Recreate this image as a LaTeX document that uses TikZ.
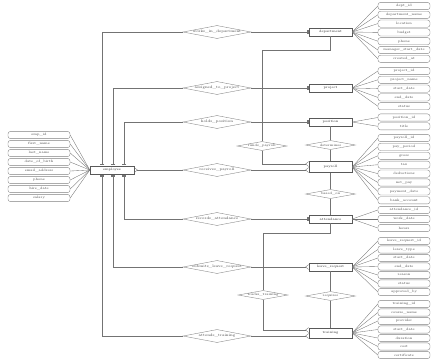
\documentclass[tikz,border=0pt]{standalone}
\usetikzlibrary{shapes.geometric,arrows.meta}
\begin{document}
\begin{tikzpicture}[x=1pt,y=-1pt,
  every node/.style={font=\fontsize{3.3}{3.6}\selectfont, text=black!75, inner sep=0.5pt},
  conn/.style={draw=black!55, line width=0.35pt},
  attr/.style={draw=black!50, line width=0.35pt, rounded corners=2.5pt, minimum height=7.2pt, fill=white},
  lattr/.style={attr, minimum width=62pt},
  rattr/.style={attr, minimum width=52pt},
  ent/.style={draw=black!65, line width=0.4pt, fill=white, minimum width=43pt, minimum height=8pt, font=\fontsize{3.3}{3.6}\selectfont, text=black!85},
  bigrel/.style={diamond, aspect=5.2, draw=black!50, line width=0.35pt, fill=white, minimum width=68pt, minimum height=13pt, inner sep=0pt, font=\fontsize{3.6}{4}\selectfont},
  smallrel/.style={diamond, aspect=5.5, draw=black!50, line width=0.35pt, fill=white, minimum width=50pt, minimum height=9pt, inner sep=0pt},
  oneend/.style={-{Bar[width=4pt,sep=1.2pt]Bar[width=4pt]}},
  manyend/.style={-{Straight Barb[reversed,length=3pt,width=5pt]}},
  onestart/.style={{Bar[width=4pt,sep=1.2pt]Bar[width=4pt]}-}
]
\useasboundingbox (0,0) rectangle (438,360);

% hidden helper coordinates
\coordinate (v1) at (102,0);
\coordinate (v2) at (113,0);
\coordinate (v3) at (124,0);
\coordinate (k1) at (262,50);
\coordinate (k2) at (0,164);
\coordinate (k3) at (263,233);
\coordinate (k4) at (0,330);

% relationships (left column)
\node[bigrel] (R1) at (217,32) {works\_in\_department};
\node[bigrel] (R2) at (217,88) {assigned\_to\_project};
\node[bigrel] (R3) at (217,122) {holds\_position};
\node[bigrel] (R4) at (217,170) {receives\_payroll};
\node[bigrel] (R5) at (217,219) {records\_attendance};
\node[bigrel] (R6) at (217,267) {submits\_leave\_request};
\node[bigrel] (R7) at (217,336) {attends\_training};

% relationships (right)
\node[smallrel] (RA) at (262,146) {funds\_payroll};
\node[smallrel] (RB) at (330.5,145) {determines};
\node[smallrel] (RC) at (330.5,194) {based\_on};
\node[smallrel] (RD) at (263,295) {tracks\_training};
\node[smallrel] (RE) at (330.5,296) {requires};

% main entity
\node[ent, minimum width=44pt, minimum height=8pt] (main) at (112,170) {employee};

% right entities
\node[ent] (E1) at (330.5,32) {department};
\node[ent] (E2) at (330.5,88) {project};
\node[ent] (E3) at (330.5,122) {position};
\node[ent, minimum height=11pt] (E4) at (330.5,167) {payroll};
\node[ent] (E5) at (330.5,219) {attendance};
\node[ent] (E6) at (330.5,267) {leave\_request};
\node[ent, minimum height=10pt] (E7) at (330.5,333) {training};

% left attributes
\foreach \t [count=\i] in {emp\_id, first\_name, last\_name, date\_of\_birth, email\_address, phone, hire\_date, salary}{
  \node[lattr] (la\i) at (39,{135+9*(\i-1)}) {\t};
  \draw[conn] (la\i.east) -- (main.west);
}

% right attributes
\foreach \t [count=\i] in {dept\_id, department\_name, location, budget, phone, manager\_start\_date, created\_at}{
  \node[rattr] (ea\i) at (404,{6+8.8*(\i-1)}) {\t};
  \draw[conn] (ea\i.west) -- (E1.east);
}
\foreach \t [count=\i] in {project\_id, project\_name, start\_date, end\_date, status}{
  \node[rattr] (eb\i) at (404,{71+8.8*(\i-1)}) {\t};
  \draw[conn] (eb\i.west) -- (E2.east);
}
\foreach \t [count=\i] in {position\_id, title}{
  \node[rattr] (ec\i) at (404,{117.5+8.8*(\i-1)}) {\t};
  \draw[conn] (ec\i.west) -- (E3.east);
}
\foreach \t [count=\i] in {payroll\_id, pay\_period, gross, tax, deductions, net\_pay, payment\_date, bank\_account}{
  \node[rattr] (ed\i) at (404,{138+8.9*(\i-1)}) {\t};
  \draw[conn] (ed\i.west) -- (E4.east);
}
\foreach \t [count=\i] in {attendance\_id, work\_date, hours}{
  \node[rattr] (ee\i) at (404,{210+9*(\i-1)}) {\t};
  \draw[conn] (ee\i.west) -- (E5.east);
}
\foreach \t [count=\i] in {leave\_request\_id, leave\_type, start\_date, end\_date, reason, status, approved\_by}{
  \node[rattr] (ef\i) at (404,{241+8.5*(\i-1)}) {\t};
  \draw[conn] (ef\i.west) -- (E6.east);
}
\foreach \t [count=\i] in {training\_id, course\_name, provider, start\_date, duration, cost, certificate}{
  \node[rattr] (eg\i) at (404,{304+8.5*(\i-1)}) {\t};
  \draw[conn] (eg\i.west) -- (E7.east);
}

% main entity to left relationships
\draw[conn, onestart] (main.north -| v1) |- (R1.west);
\draw[conn, onestart] (main.north -| v2) |- (R2.west);
\draw[conn, onestart] (main.north -| v3) |- (R3.west);
\draw[conn, manyend] (R4.west) -- (main.east);
\draw[conn, onestart] (main.south -| v3) |- (R5.west);
\draw[conn, onestart] (main.south -| v2) |- (R6.west);
\draw[conn, onestart] (main.south -| v1) |- (R7.west);

% left relationships to entities
\draw[conn, oneend] (R1.east) -- (E1.west);
\draw[conn, oneend] (R2.east) -- (E2.west);
\draw[conn, oneend] (R3.east) -- (E3.west);
\draw[conn, manyend] (R4.east) -- (E4.west |- R4.east);
\draw[conn, oneend] (R5.east) -- (E5.west);
\draw[conn, manyend] (R6.east) -- (E6.west);
\draw[conn, manyend] (R7.east) -- (E7.west |- R7.east);

% right side relationships
\draw[conn] (E1.south -| 330,0) |- (k1) -- (RA.north);
\draw[conn, manyend] (RA.south) |- (E4.west |- k2);
\draw[conn] (E3.south) -- (RB.north);
\draw[conn] (RB.south) -- (E4.north);
\draw[conn] (E4.south) -- (RC.north);
\draw[conn] (RC.south) -- (E5.north);
\draw[conn] (E5.south) |- (k3) -- (RD.north);
\draw[conn, manyend] (RD.south) |- (E7.west |- k4);
\draw[conn] (E6.south) -- (RE.north);
\draw[conn] (RE.south) -- (E7.north);
\end{tikzpicture}
\end{document}
